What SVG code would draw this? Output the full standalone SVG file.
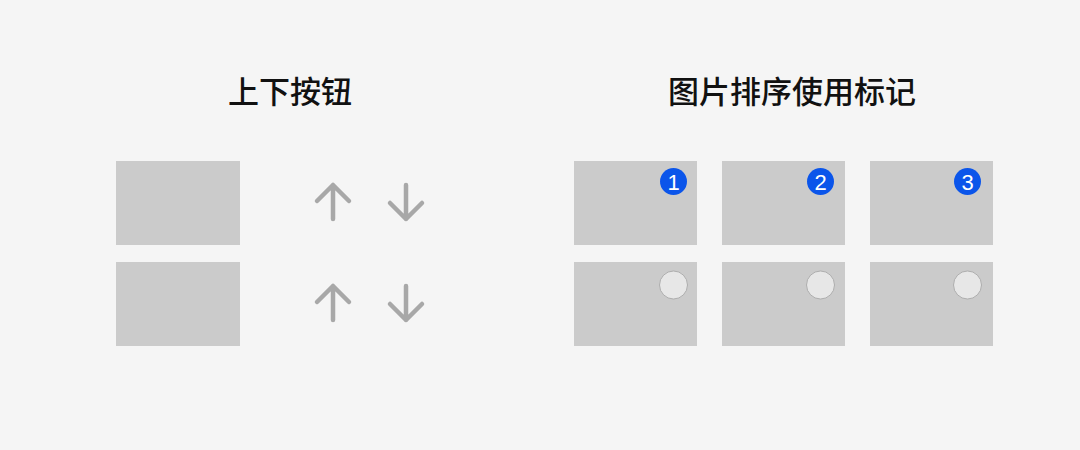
<svg xmlns="http://www.w3.org/2000/svg" width="1080" height="450" viewBox="0 0 1080 450">
<style>
.title{font-family:"Noto Sans CJK SC","Noto Sans",sans-serif;font-size:31px;font-weight:500;fill:#111;text-anchor:middle}
.img{fill:#cbcbcb}
.arr{fill:none;stroke:#a8a8a8;stroke-width:4.5;stroke-linecap:round;stroke-linejoin:round}
.badge{fill:#0b55ea}
.num{font-family:"Liberation Sans",Arial,sans-serif;font-size:22px;fill:#fff;text-anchor:middle}
.empty{fill:#e7e7e7;stroke:#adadad;stroke-width:1}
</style>
<rect width="1080" height="450" fill="#f5f5f5"/>
<g id="title-left"><text class="title" x="290" y="103">上下按钮</text></g>
<g id="title-right"><text class="title" x="792" y="103">图片排序使用标记</text></g>
<g id="left-row1">
<rect class="img" x="116" y="161" width="124" height="84"/>
<path class="arr" d="M333 185V219M317 201L333 185L349 201"/>
<path class="arr" d="M406 185V219M390 203L406 219L422 203"/>
</g>
<g id="left-row2">
<rect class="img" x="116" y="262" width="124" height="84"/>
<path class="arr" d="M333 286V320M317 302L333 286L349 302"/>
<path class="arr" d="M406 286V320M390 304L406 320L422 304"/>
</g>
<g id="img1"><rect class="img" x="574" y="161" width="123" height="84"/><circle class="badge" cx="673.5" cy="181.5" r="13.5"/><text class="num" x="673.5" y="189.5">1</text></g>
<g id="img2"><rect class="img" x="722" y="161" width="123" height="84"/><circle class="badge" cx="820.5" cy="181.5" r="13.5"/><text class="num" x="820.5" y="189.5">2</text></g>
<g id="img3"><rect class="img" x="870" y="161" width="123" height="84"/><circle class="badge" cx="967.5" cy="181.5" r="13.5"/><text class="num" x="967.5" y="189.5">3</text></g>
<g id="img4"><rect class="img" x="574" y="262" width="123" height="84"/><circle class="empty" cx="673.5" cy="285" r="14"/></g>
<g id="img5"><rect class="img" x="722" y="262" width="123" height="84"/><circle class="empty" cx="820.5" cy="285" r="14"/></g>
<g id="img6"><rect class="img" x="870" y="262" width="123" height="84"/><circle class="empty" cx="967.5" cy="285" r="14"/></g>
<g id="connectors"></g>
</svg>
